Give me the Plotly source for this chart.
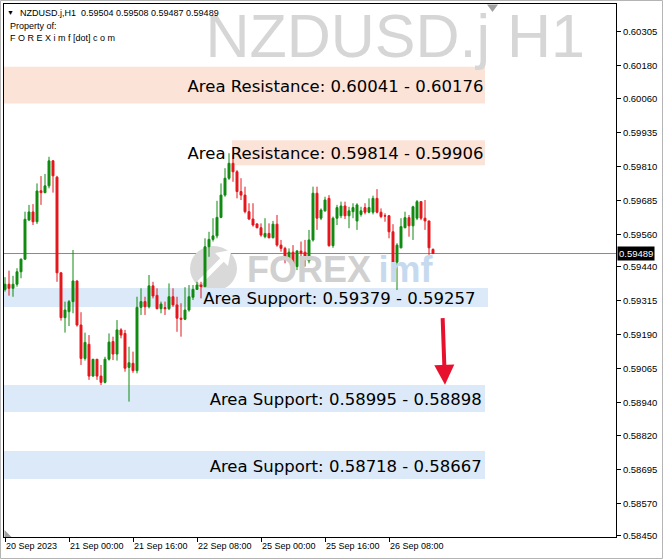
import plotly.graph_objects as go

# ---------------- data ----------------
symbol = "NZDUSD.j"
timeframe = "H1"

opens = [0.59357, 0.59376, 0.59361, 0.59376, 0.59422, 0.59468, 0.59612, 0.59642, 0.59606, 0.59720,
         0.59713, 0.59738, 0.59830, 0.59770, 0.59418, 0.59253, 0.59275, 0.59312, 0.59388, 0.59226,
         0.59103, 0.59155, 0.59038, 0.59100, 0.59038, 0.59015, 0.59100, 0.59165, 0.59119, 0.59208,
         0.59195, 0.59070, 0.59085, 0.59058, 0.59291, 0.59312, 0.59293, 0.59370, 0.59335, 0.59286,
         0.59290, 0.59286, 0.59330, 0.59300, 0.59251, 0.59247, 0.59281, 0.59328, 0.59357, 0.59373,
         0.59367, 0.59514, 0.59541, 0.59554, 0.59622, 0.59704, 0.59766, 0.59821, 0.59790, 0.59717,
         0.59704, 0.59643, 0.59616, 0.59598, 0.59584, 0.59551, 0.59563, 0.59547, 0.59597, 0.59520,
         0.59508, 0.59465, 0.59494, 0.59441, 0.59498, 0.59494, 0.59462, 0.59539, 0.59711, 0.59619,
         0.59646, 0.59692, 0.59518, 0.59619, 0.59628, 0.59664, 0.59628, 0.59643, 0.59609, 0.59633,
         0.59658, 0.59641, 0.59641, 0.59692, 0.59641, 0.59628, 0.59628, 0.59569, 0.59457, 0.59510,
         0.59584, 0.59621, 0.59591, 0.59619, 0.59680, 0.59619, 0.59609, 0.59504]
highs = [0.59402, 0.59426, 0.59407, 0.59435, 0.59471, 0.59643, 0.59668, 0.59671, 0.59747, 0.59774,
         0.59782, 0.59845, 0.59833, 0.59775, 0.59420, 0.59312, 0.59318, 0.59502, 0.59390, 0.59273,
         0.59198, 0.59189, 0.59100, 0.59100, 0.59079, 0.59109, 0.59195, 0.59183, 0.59244, 0.59214,
         0.59208, 0.59146, 0.59128, 0.59330, 0.59361, 0.59330, 0.59410, 0.59385, 0.59361, 0.59312,
         0.59312, 0.59379, 0.59361, 0.59330, 0.59306, 0.59365, 0.59373, 0.59373, 0.59385, 0.59385,
         0.59545, 0.59569, 0.59619, 0.59683, 0.59747, 0.59803, 0.59858, 0.59852, 0.59796, 0.59766,
         0.59735, 0.59674, 0.59674, 0.59600, 0.59600, 0.59619, 0.59600, 0.59609, 0.59631, 0.59539,
         0.59514, 0.59508, 0.59520, 0.59502, 0.59533, 0.59539, 0.59576, 0.59735, 0.59735, 0.59655,
         0.59698, 0.59704, 0.59625, 0.59668, 0.59680, 0.59680, 0.59661, 0.59674, 0.59674, 0.59661,
         0.59674, 0.59692, 0.59702, 0.59726, 0.59655, 0.59637, 0.59631, 0.59597, 0.59527, 0.59619,
         0.59643, 0.59631, 0.59665, 0.59686, 0.59682, 0.59686, 0.59609, 0.59508]
lows = [0.59349, 0.59334, 0.59330, 0.59367, 0.59398, 0.59468, 0.59610, 0.59594, 0.59598, 0.59668,
        0.59711, 0.59729, 0.59713, 0.59385, 0.59242, 0.59198, 0.59222, 0.59269, 0.59220, 0.59079,
        0.59095, 0.59024, 0.59036, 0.59024, 0.59005, 0.59011, 0.59095, 0.59097, 0.59095, 0.59177,
        0.59054, 0.58944, 0.59050, 0.59048, 0.59263, 0.59263, 0.59287, 0.59324, 0.59284, 0.59269,
        0.59263, 0.59281, 0.59293, 0.59201, 0.59183, 0.59244, 0.59275, 0.59318, 0.59355, 0.59324,
        0.59367, 0.59477, 0.59533, 0.59545, 0.59619, 0.59698, 0.59760, 0.59753, 0.59692, 0.59686,
        0.59637, 0.59612, 0.59588, 0.59582, 0.59551, 0.59545, 0.59545, 0.59545, 0.59514, 0.59496,
        0.59453, 0.59459, 0.59435, 0.59428, 0.59471, 0.59441, 0.59453, 0.59533, 0.59576, 0.59612,
        0.59643, 0.59514, 0.59510, 0.59594, 0.59619, 0.59616, 0.59582, 0.59619, 0.59576, 0.59625,
        0.59633, 0.59637, 0.59633, 0.59637, 0.59619, 0.59606, 0.59545, 0.59447, 0.59355, 0.59508,
        0.59582, 0.59551, 0.59539, 0.59612, 0.59612, 0.59576, 0.59484, 0.59487]
closes = [0.59376, 0.59361, 0.59376, 0.59422, 0.59468, 0.59615, 0.59642, 0.59606, 0.59719, 0.59713,
          0.59738, 0.59830, 0.59775, 0.59418, 0.59253, 0.59281, 0.59312, 0.59388, 0.59226, 0.59103,
          0.59162, 0.59038, 0.59100, 0.59038, 0.59015, 0.59100, 0.59163, 0.59119, 0.59208, 0.59189,
          0.59067, 0.59087, 0.59058, 0.59291, 0.59312, 0.59293, 0.59370, 0.59333, 0.59286, 0.59303,
          0.59286, 0.59330, 0.59300, 0.59251, 0.59247, 0.59281, 0.59330, 0.59357, 0.59373, 0.59367,
          0.59514, 0.59541, 0.59554, 0.59622, 0.59704, 0.59766, 0.59821, 0.59790, 0.59717, 0.59704,
          0.59643, 0.59616, 0.59594, 0.59584, 0.59557, 0.59563, 0.59547, 0.59597, 0.59520, 0.59508,
          0.59465, 0.59494, 0.59441, 0.59498, 0.59490, 0.59471, 0.59539, 0.59711, 0.59619, 0.59649,
          0.59686, 0.59518, 0.59619, 0.59658, 0.59664, 0.59628, 0.59646, 0.59658, 0.59668, 0.59646,
          0.59641, 0.59658, 0.59692, 0.59641, 0.59625, 0.59627, 0.59569, 0.59457, 0.59520, 0.59588,
          0.59621, 0.59591, 0.59661, 0.59680, 0.59619, 0.59609, 0.59510, 0.59489]
bar_index = list(range(len(opens)))

time_tick_bars = [0, 16, 32, 48, 64, 80, 96]
time_tick_labels = ["20 Sep 2023", "21 Sep 00:00", "21 Sep 16:00", "22 Sep 08:00",
                    "25 Sep 00:00", "25 Sep 16:00", "26 Sep 08:00"]

price_ticks = [0.60305, 0.60180, 0.60060, 0.59935, 0.59810, 0.59685, 0.59560, 0.59440,
               0.59315, 0.59190, 0.59065, 0.58940, 0.58820, 0.58695, 0.58570, 0.58450]

bid_price = 0.59489

zone_labels = ["Area Resistance: 0.60041 - 0.60176",
               "Area Resistance: 0.59814 - 0.59906",
               "Area Support: 0.59379 - 0.59257",
               "Area Support: 0.58995 - 0.58898",
               "Area Support: 0.58718 - 0.58667"]
zone_kind = ["resistance", "resistance", "support", "support", "support"]
zone_low = [0.60041, 0.59814, 0.59292, 0.58906, 0.58659]
zone_high = [0.60176, 0.59906, 0.59362, 0.59005, 0.58762]

# ---------------- styling / placement ----------------
W, H = 664, 560
ML, MR, MT, MB = 4, 48, 4, 23
PW, PH = W - ML - MR, H - MT - MB
X_RANGE = [-0.25, 152.75]
Y_RANGE = [0.604073, 0.584458]
PRICE_PER_PX = (Y_RANGE[0] - Y_RANGE[1]) / PH

def px(xp):   # pixel -> paper x
    return (xp - ML) / PW

def py(yp):   # pixel -> paper y
    return (H - MB - yp) / PH

zone_x0 = [-0.25, 56.75, -0.25, -0.25, -0.25]
zone_x1 = [120.0, 120.0, 120.75, 120.0, 120.0]
label_x = [119.6, 119.6, 117.6, 119.2, 119.2]
label_drop_px = 2.5
zone_fill = {"resistance": "#fce3d8", "support": "#dbe9f8"}

BULL = "#118a11"
BEAR = "#e5161c"
BASE_FONT = "Liberation Sans"

fig = go.Figure()

# watermark texts (drawn below candles)
fig.add_trace(go.Scatter(
    x=[145.0], y=[0.60267], mode="text", text=[symbol + " " + timeframe],
    textposition="middle left",
    textfont=dict(family="Liberation Sans", size=61, color="#d6d6d6"),
    hoverinfo="skip", showlegend=False))
fig.add_trace(go.Scatter(
    x=[60.5, 93.4], y=[0.59418, 0.59418], mode="text", text=["<b>FOREX</b>", "<b>imf</b>"],
    textposition="middle right",
    textfont=dict(family="Liberation Sans", size=36, color=["#d0d0d0", "#c6daef"]),
    hoverinfo="skip", showlegend=False))

# zone labels
fig.add_trace(go.Scatter(
    x=label_x,
    y=[(a + b) / 2 - label_drop_px * PRICE_PER_PX for a, b in zip(zone_low, zone_high)],
    mode="text", text=zone_labels, textposition="middle left",
    textfont=dict(family="DejaVu Sans", size=16.5, color="#000000"),
    hoverinfo="skip", showlegend=False))

fig.add_trace(go.Candlestick(
    x=bar_index, open=opens, high=highs, low=lows, close=closes,
    increasing=dict(line=dict(color=BULL, width=1), fillcolor=BULL),
    decreasing=dict(line=dict(color=BEAR, width=1), fillcolor=BEAR),
    whiskerwidth=0, hoverinfo="skip", showlegend=False))

shapes = []
for k in range(len(zone_labels)):
    shapes.append(dict(type="rect", xref="x", yref="y", layer="below",
                       x0=zone_x0[k], x1=zone_x1[k], y0=zone_low[k], y1=zone_high[k],
                       fillcolor=zone_fill[zone_kind[k]], line=dict(width=0)))
# bid line
shapes.append(dict(type="line", xref="paper", yref="y", x0=0, x1=1, y0=bid_price, y1=bid_price,
                   line=dict(color="#7f8c99", width=1), layer="below"))
# logo circle + swoosh
shapes.append(dict(type="circle", xref="paper", yref="paper", layer="below",
                   x0=px(190), x1=px(237), y0=py(291), y1=py(246),
                   fillcolor="#d9d9d9", line=dict(width=0)))
shapes.append(dict(type="line", xref="paper", yref="paper", layer="below",
                   x0=px(199), y0=py(283), x1=px(224), y1=py(258),
                   line=dict(color="white", width=5)))
shapes.append(dict(type="path", xref="paper", yref="paper", layer="below",
                   path=f"M {px(215)},{py(253)} L {px(231)},{py(250)} L {px(228)},{py(266)} Z",
                   fillcolor="white", line=dict(width=0)))
# chart-shift markers
shapes.append(dict(type="path", xref="paper", yref="paper",
                   path=f"M {px(487)},{py(4.5)} L {px(498)},{py(4.5)} L {px(492.5)},{py(12)} Z",
                   fillcolor="#a0a0a0", line=dict(width=0)))
shapes.append(dict(type="path", xref="paper", yref="paper",
                   path=f"M {px(4.5)},{py(530)} L {px(4.5)},{py(537)} L {px(11.5)},{py(537)} Z",
                   fillcolor="#a0a0a0", line=dict(width=0)))
# outer frame
shapes.append(dict(type="rect", xref="paper", yref="paper",
                   x0=px(0.5), x1=px(662.5), y0=py(558.5), y1=py(0.5),
                   line=dict(color="#b4b4b4", width=1), fillcolor="rgba(0,0,0,0)"))

annotations = [
    dict(xref="paper", yref="paper", x=px(5), y=py(12.5), xanchor="left", yanchor="middle",
         text="▼", showarrow=False, font=dict(size=7, color="#000000")),
    dict(xref="paper", yref="paper", x=px(18), y=py(12.5), xanchor="left", yanchor="middle",
         text=f"{symbol},{timeframe}\u00a0\u00a0" + " ".join(f"{v:.5f}" for v in
              (opens[-1], highs[-1], lows[-1], closes[-1])),
         showarrow=False, font=dict(size=9, color="#000000")),
    dict(xref="paper", yref="paper", x=px(8), y=py(25.5), xanchor="left", yanchor="middle",
         text="Property of:", showarrow=False, font=dict(size=9, color="#000000")),
    dict(xref="paper", yref="paper", x=px(8), y=py(37.5), xanchor="left", yanchor="middle",
         text="F O R E X i m f [dot] c o m", showarrow=False, font=dict(size=9, color="#000000")),
    dict(xref="paper", yref="y", x=1, y=bid_price, xanchor="left", yanchor="middle", xshift=1,
         text=f"{bid_price:.5f}", showarrow=False, bgcolor="#000000", borderpad=1,
         font=dict(size=9.5, color="#ffffff")),
    dict(xref="x", yref="y", axref="x", ayref="y", x=110.0, y=0.59006, ax=109.4, ay=0.59257,
         text="", showarrow=True, arrowhead=2, arrowsize=1, arrowwidth=4,
         arrowcolor="#e8112d", standoff=0, startstandoff=0),
]

fig.update_layout(
    width=W, height=H,
    margin=dict(l=ML, r=MR, t=MT, b=MB, autoexpand=False),
    paper_bgcolor="white", plot_bgcolor="white",
    font=dict(family=BASE_FONT, size=9, color="#000000"),
    showlegend=False,
    shapes=shapes, annotations=annotations,
    xaxis=dict(range=X_RANGE, tickmode="array", tickvals=time_tick_bars, ticktext=time_tick_labels,
               ticks="outside", ticklen=4, tickcolor="#000000", showline=True, mirror=True,
               linecolor="#000000", linewidth=1, showgrid=False, zeroline=False,
               ticklabelposition="outside right", rangeslider=dict(visible=False),
               tickangle=0, automargin=False, tickfont=dict(size=9)),
    yaxis=dict(range=Y_RANGE[::-1], side="right", tickmode="array", tickvals=price_ticks,
               ticktext=[f"{v:.5f}" for v in price_ticks], ticks="outside", ticklen=4,
               tickcolor="#000000", showline=True, mirror=True, linecolor="#000000", linewidth=1,
               showgrid=False, zeroline=False, automargin=False, tickfont=dict(size=9.5)),
)

fig.write_html("out.html", config={"displayModeBar": False},
               post_script="document.body.style.margin='0px';document.body.style.overflow='hidden';")
